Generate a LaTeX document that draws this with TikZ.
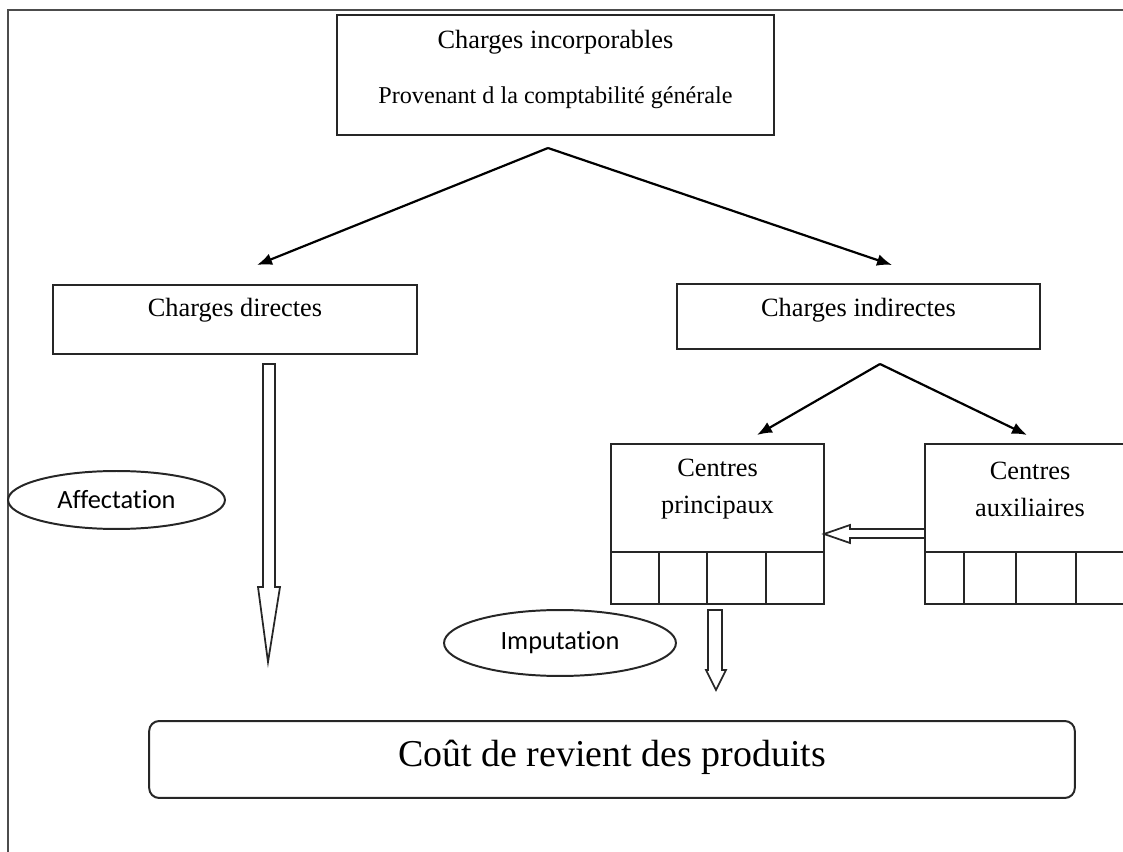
\documentclass[tikz,border=0pt]{standalone}
\usepackage{fontspec}
\setmainfont{Liberation Serif}
\newfontfamily\calibrifont[Ligatures=NoCommon]{Carlito}
\usepackage{tikz}
\usetikzlibrary{arrows.meta, shapes.geometric}
\tikzstyle{frame}=[draw=black!70, line width=1.2pt]
\tikzstyle{box}=[draw=black!85, line width=0.9pt, inner sep=0pt, outer sep=0pt]
\tikzstyle{txt}=[inner sep=0pt, align=center, font=\fontsize{12}{16.8}\selectfont]
\tikzstyle{bubble}=[ellipse, draw=black!85, line width=0.9pt, inner sep=0pt, font=\calibrifont\fontsize{12}{14}\selectfont]
\tikzstyle{arrow}=[draw=black, line width=1pt, >={Latex[length=2.4mm, width=1.9mm]}]
\tikzstyle{hollow}=[draw=black!85, line width=0.8pt, fill=white, line join=miter]

\begin{document}
\begin{tikzpicture}[x=0.016cm, y=-0.016cm]
		\useasboundingbox (0,0) rectangle (1123,852);
		\clip (0,0) rectangle (1123,852);
		\draw [frame] (1200,10) -- (8,10) -- (8,900);
		\begin{scope}
			\node (inc) at (555.5,75)[box, minimum width=6.992cm, minimum height=1.92cm] {};
			\node (inclbl) at (555.5,42)[txt] {Charges incorporables};
			\node (provlbl) at (555.5,98)[txt, font=\fontsize{11}{13}\selectfont] {Provenant d la comptabilité générale};
			\node (dir) at (235,319.5)[box, minimum width=5.824cm, minimum height=1.104cm] {};
			\node (dirlbl) at (235,310)[txt] {Charges directes};
			\node (ind) at (858.5,316.5)[box, minimum width=5.808cm, minimum height=1.04cm] {};
			\node (indlbl) at (858.5,310)[txt] {Charges indirectes};
			\node (prin) at (717.5,498)[box, minimum width=3.408cm, minimum height=1.728cm] {};
			\node (prinlbl) at (717.5,489)[txt] {Centres\\principaux};
			\node (aux) at (1030,498)[box, minimum width=3.36cm, minimum height=1.728cm] {};
			\node (auxlbl) at (1030,489)[txt] {Centres\\auxiliaires};
			\node (aff) at (116.5,500)[bubble, minimum width=3.472cm, minimum height=0.928cm] {Affectation};
			\node (imp) at (560,643)[bubble, minimum width=3.712cm, minimum height=1.056cm] {Imputation};
			\node (cout) at (612,759.5)[box, rounded corners=0.16cm, minimum width=14.816cm, minimum height=1.232cm] {};
			\node (coutlbl) at (612,757)[txt, font=\fontsize{17.28}{20}\selectfont] {Coût de revient des produits};
		\end{scope}
		\begin{scope}
			% cells under the centres
			\draw [box] (prin.south west) rectangle (824,604);
			\foreach \x in {659,707,766}
				\draw [box] (\x,552) -- (\x,604);
			\draw [box] (aux.south west) rectangle (1135,604);
			\foreach \x in {964,1016,1076}
				\draw [box] (\x,552) -- (\x,604);
		\end{scope}
		\begin{scope}
			\coordinate (split1) at (548,148);
			\coordinate (dirin) at (257,265);
			\coordinate (indin) at (892,265);
			\coordinate (split2) at (880,364);
			\coordinate (prinin) at (757,435);
			\coordinate (auxin) at (1027,435);
			\draw [arrow, ->] (split1) -- (dirin);
			\draw [arrow, ->] (split1) -- (indin);
			\draw [arrow, ->] (split2) -- (prinin);
			\draw [arrow, ->] (split2) -- (auxin);
		\end{scope}
		\begin{scope}
			% hollow arrows
			\draw [hollow] (263,364) -- (275,364) -- (275,587) -- (280,587) -- (268,662) -- (258,587) -- (263,587) -- cycle;
			\draw [hollow] (708,610) -- (722,610) -- (722,670) -- (726,670) -- (716,690) -- (706,670) -- (708,670) -- cycle;
			\draw [hollow] (925,529) -- (850,529) -- (850,525) -- (824,534) -- (850,543) -- (850,538) -- (925,538) -- cycle;
		\end{scope}
\end{tikzpicture}
\end{document}
